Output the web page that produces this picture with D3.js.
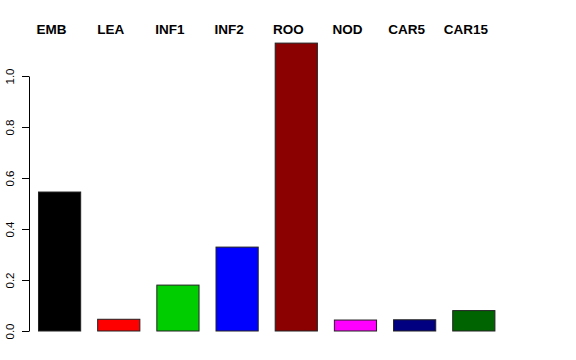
<!DOCTYPE html>
<html>
<head>
<meta charset="utf-8">
<script src="https://cdn.jsdelivr.net/npm/d3@7"></script>
<style>
  body { margin: 0; background: white; }
  text { font-family: "Liberation Sans", Arial, sans-serif; }
</style>
</head>
<body>
<svg id="chart" width="576" height="360"></svg>
<script>
// values
const categories = ["EMB", "LEA", "INF1", "INF2", "ROO", "NOD", "CAR5", "CAR15"];
const values = [0.545, 0.046, 0.180, 0.329, 1.129, 0.043, 0.044, 0.080];
const colors = ["#000000", "#FF0000", "#00CD00", "#0000FF", "#8B0000", "#FF00FF", "#000080", "#006400"];
const tickValues = [0, 0.2, 0.4, 0.6, 0.8, 1.0];

const svg = d3.select("#chart");

const x = d3.scaleBand()
  .domain(categories)
  .range([30, 503.4])
  .paddingInner(0.287)
  .paddingOuter(0.1435);

const y = d3.scaleLinear()
  .domain([0, 1])
  .range([331, 76]);

// bars
svg.selectAll(".bar")
  .data(categories)
  .enter().append("rect")
  .attr("class", "bar")
  .attr("x", d => x(d))
  .attr("width", x.bandwidth())
  .attr("y", (d, i) => y(values[i]))
  .attr("height", (d, i) => y(0) - y(values[i]))
  .attr("fill", (d, i) => colors[i])
  .attr("stroke", "#222")
  .attr("stroke-width", 1);

// y axis
const yAxis = svg.append("g")
  .attr("transform", "translate(29,0)")
  .call(d3.axisLeft(y).tickValues(tickValues).tickFormat(d3.format(".1f")).tickSize(7).tickSizeOuter(0));

yAxis.select(".domain").attr("stroke", "#000");
yAxis.selectAll(".tick line").attr("stroke", "#000");
yAxis.selectAll(".tick text")
  .attr("x", null)
  .attr("dy", null)
  .attr("text-anchor", "middle")
  .attr("transform", "translate(-15,0) rotate(-90)")
  .style("font-size", "11.5px")
  .style("font-family", "Liberation Sans, Arial, sans-serif")
  .attr("fill", "#000");

// category labels along the top
svg.selectAll(".lab")
  .data(categories)
  .enter().append("text")
  .attr("class", "lab")
  .attr("x", d => x(d) + x.bandwidth() / 2 - 8)
  .attr("y", 34)
  .attr("text-anchor", "middle")
  .style("font-size", "13.5px")
  .style("font-weight", "bold")
  .text(d => d);
</script>
</body>
</html>
